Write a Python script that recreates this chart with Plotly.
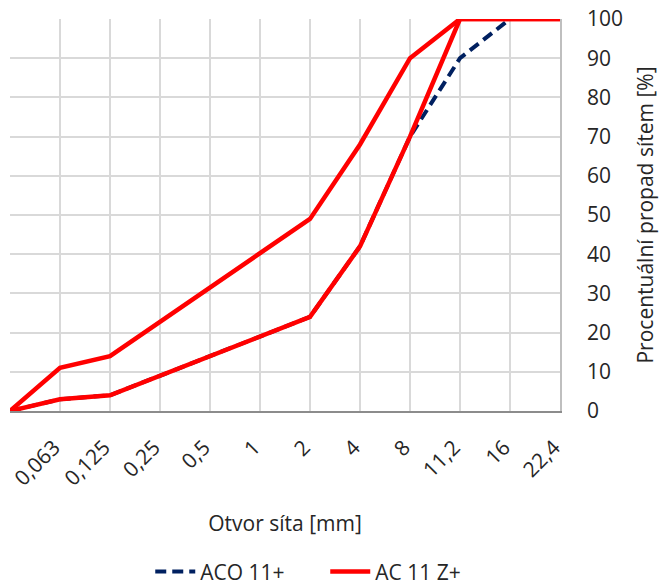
import plotly.graph_objects as go

# Sieve openings (mm) as shown on the category axis
sieves = ["0", "0,063", "0,125", "0,25", "0,5", "1", "2", "4", "8", "11,2", "16", "22,4"]
tick_labels = ["", "0,063", "0,125", "0,25", "0,5", "1", "2", "4", "8", "11,2", "16", "22,4"]

# ACO 11+ grading curve (% passing)
aco_11 = [0, 3, 4, None, None, None, 24, 42, 70, 90, 100, 100]

# AC 11 Z+ grading envelope (% passing): upper and lower limits
ac11z_upper = [0, 11, 14, None, None, None, 49, 68, 90, 100, 100, 100]
ac11z_lower = [0, 3, 4, None, None, None, 24, 42, 70, 100, 100, 100]

FONT = "Open Sans"
TXT = "#262626"
RED = "#ff0000"
NAVY = "#002060"

fig = go.Figure()

fig.add_trace(go.Scatter(
    x=sieves, y=aco_11, name="ACO 11+", mode="lines", connectgaps=True,
    line=dict(color=NAVY, width=4, dash="11px,6px"), cliponaxis=False,
))
fig.add_trace(go.Scatter(
    x=sieves, y=ac11z_upper, name="AC 11 Z+", mode="lines", connectgaps=True,
    line=dict(color=RED, width=4.5), legendgroup="ac", cliponaxis=False,
))
fig.add_trace(go.Scatter(
    x=sieves, y=ac11z_lower, name="AC 11 Z+", mode="lines", connectgaps=True,
    line=dict(color=RED, width=4.5), legendgroup="ac", showlegend=False,
    cliponaxis=False,
))

fig.update_layout(
    width=663, height=587,
    margin=dict(l=10, r=103, t=19, b=176),
    paper_bgcolor="white", plot_bgcolor="white",
    font=dict(family=FONT, size=21, color=TXT),
    showlegend=True,
    legend=dict(
        orientation="h", x=0.255, xanchor="left",
        yref="container", y=0.026, yanchor="middle",
        font=dict(family=FONT, size=21, color=TXT),
        itemwidth=40, entrywidth=120, entrywidthmode="pixels",
    ),
)

fig.update_xaxes(
    type="category", categoryorder="array", categoryarray=sieves,
    range=[0, 11], automargin=False,
    tickmode="array", tickvals=sieves, ticktext=tick_labels,
    tickangle=-45, ticks="",
    tickfont=dict(size=21),
    showgrid=True, gridcolor="#d9d9d9", gridwidth=1.5,
    showline=True, linecolor="#8c8c8c", linewidth=2,
    zeroline=False,
    title=dict(text="Otvor síta [mm]", standoff=26, font=dict(size=21)),
    ticklabelstandoff=14, ticklabelshift=-6,
)

fig.update_yaxes(
    side="right", range=[0, 100], dtick=10, automargin=False,
    showgrid=True, gridcolor="#d9d9d9", gridwidth=1.5,
    showline=True, linecolor="#bfbfbf", linewidth=1.5,
    zeroline=False, ticks="",
    tickfont=dict(size=21),
    ticklabelstandoff=21,
    title=dict(text="Procentuální propad sítem [%]", standoff=16, font=dict(size=21)),
)

fig.write_html("out.html")
